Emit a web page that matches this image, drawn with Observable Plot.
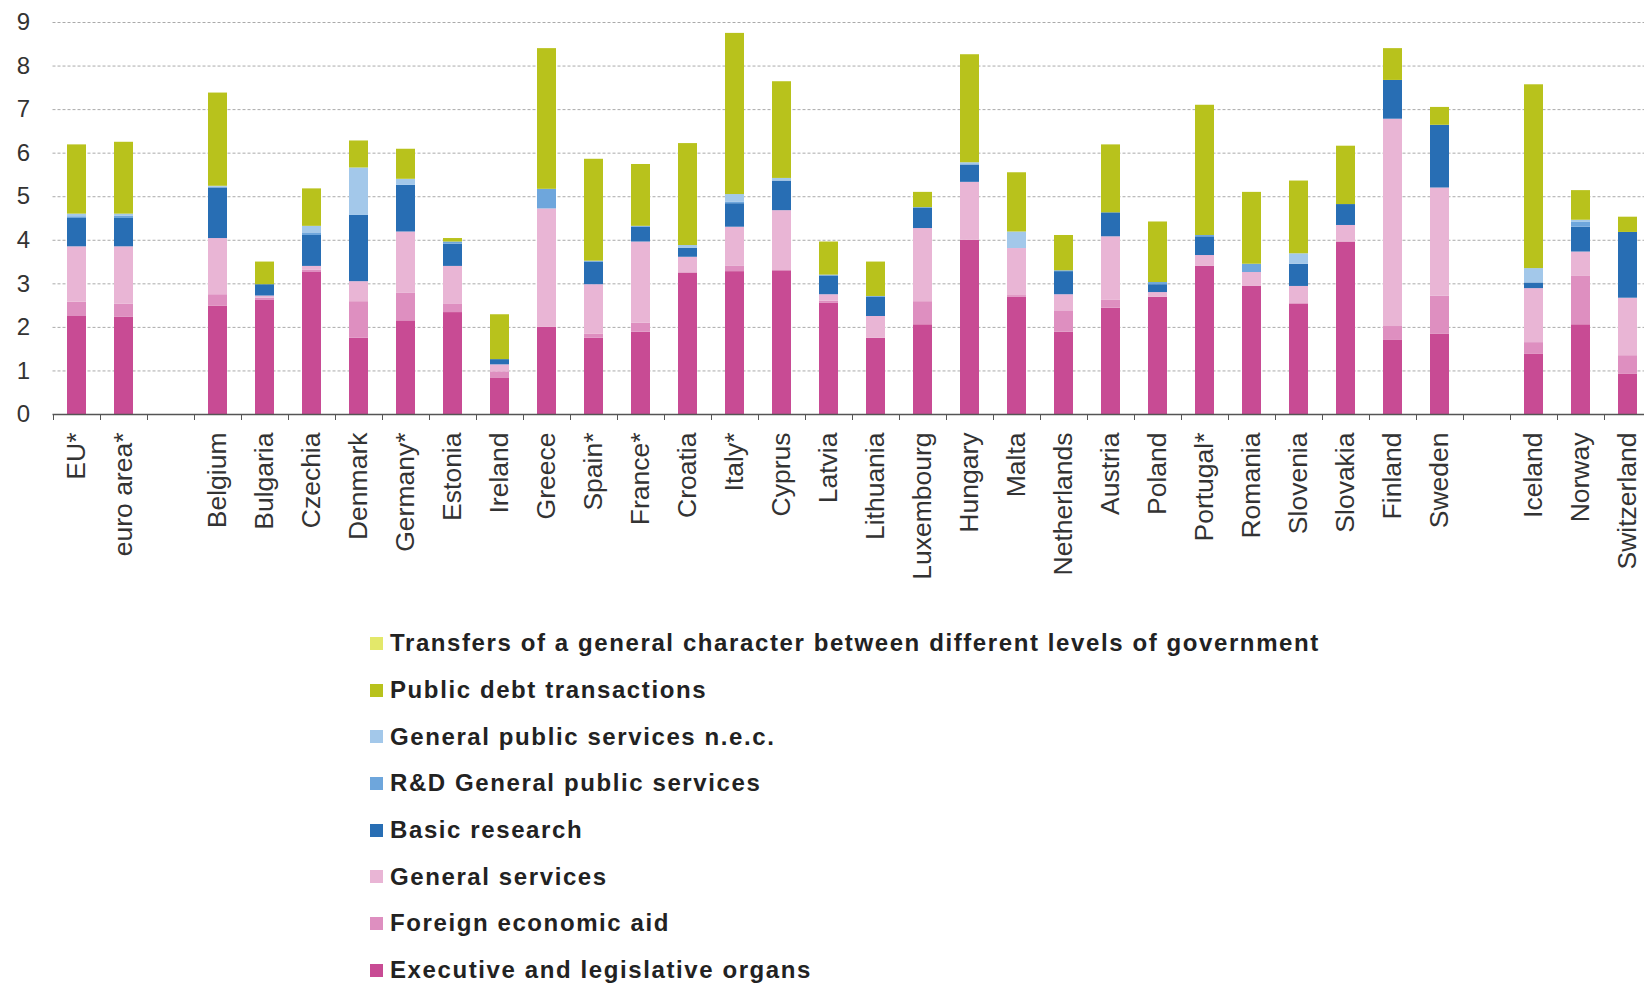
<!DOCTYPE html>
<html><head><meta charset="utf-8">
<script src="https://cdn.jsdelivr.net/npm/d3@7"></script>
<script src="https://cdn.jsdelivr.net/npm/@observablehq/plot@0.6"></script>
<style>
body{margin:0;background:#fff;font-family:"Liberation Sans",Arial,sans-serif;overflow:hidden}
#legend{margin-left:370px;margin-top:20px}
.item{display:flex;align-items:center;height:46.7px;font-weight:bold;font-size:24px;letter-spacing:1.6px;color:#222}
.sw{width:13px;height:13px;margin-right:7px;flex:none}
</style></head><body><div id="chart"></div><div id="legend"></div>
<script>
// x categories ("" and " " are empty spacer slots)
const categories = ["EU*","euro area*","","Belgium","Bulgaria","Czechia","Denmark","Germany*","Estonia","Ireland","Greece","Spain*","France*","Croatia","Italy*","Cyprus","Latvia","Lithuania","Luxembourg","Hungary","Malta","Netherlands","Austria","Poland","Portugal*","Romania","Slovenia","Slovakia","Finland","Sweden"," ","Iceland","Norway","Switzerland"];
const countries = categories.filter(c => c.trim() !== "");
const yTicks = [0,1,2,3,4,5,6,7,8,9];

// series, bottom to top
const seriesNames = ["Executive and legislative organs","Foreign economic aid","General services","Basic research","R&D General public services","General public services n.e.c.","Public debt transactions","Transfers of a general character between different levels of government"];
const seriesColors = ["#c84b94","#de8fc0","#e9b5d5","#286eb4","#6ea6dc","#a3c8ea","#b8c21c","#e3e86a"];

const executive = [2.25,2.23, 2.49,2.63,3.26,1.75,2.15,2.34,0.84,2.00,1.75,1.89,3.25,3.28,3.30,2.56,1.75,2.06,4.00,2.69,1.89,2.44,2.69,3.40,2.94,2.54,3.96,1.70,1.84, 1.38,2.06,0.93];
const foreignAid = [0.33,0.30, 0.26,0.04,0.05,0.84,0.64,0.20,0.14,0,0.09,0.21,0,0.12,0,0.04,0,0.53,0,0.04,0.49,0.19,0,0,0,0,0,0.32,0.88, 0.27,1.11,0.42];
const generalServices = [1.27,1.32, 1.29,0.05,0.09,0.46,1.40,0.86,0.16,2.72,1.14,1.86,0.36,0.90,1.38,0.15,0.50,1.68,1.33,1.08,0.37,1.45,0.11,0.25,0.32,0.40,0.38,4.76,2.48, 1.24,0.56,1.32];
const basicResearch = [0.65,0.65, 1.16,0.26,0.71,1.52,1.07,0.51,0.12,0,0.52,0.34,0.21,0.54,0.68,0.43,0.44,0.46,0.40,0,0.53,0.55,0.18,0.43,0,0.51,0.48,0.89,1.44, 0.13,0.57,1.51];
const rdGeneral = [0.04,0.05, 0.02,0,0.06,0,0,0.05,0,0.45,0.02,0.02,0,0.03,0,0.02,0.02,0.02,0,0,0.02,0,0.05,0.03,0.19,0,0,0,0, 0,0.11,0];
const gpsNec = [0.06,0.05, 0.02,0,0.15,1.09,0.14,0,0,0,0,0,0.06,0.18,0.06,0,0,0,0.05,0.38,0,0,0,0,0,0.24,0,0,0, 0.33,0.05,0];
const publicDebt = [1.59,1.65, 2.14,0.52,0.86,0.62,0.69,0.08,1.03,3.23,2.34,1.42,2.34,3.70,2.22,0.76,0.79,0.35,2.48,1.36,0.81,1.56,1.39,2.99,1.65,1.67,1.34,0.73,0.41, 4.22,0.68,0.35];
const transfers = [0,0, 0,0,0,0,0,0,0,0,0,0,0,0,0,0,0,0,0,0,0,0,0,0,0,0,0,0,0, 0,0,0];

const seriesValues = [executive, foreignAid, generalServices, basicResearch, rdGeneral, gpsNec, publicDebt, transfers];

const tidy = [];
countries.forEach((c, i) => seriesNames.forEach((s, j) => tidy.push({country: c, series: s, value: seriesValues[j][i]})));

const font = '"Liberation Sans", Arial, sans-serif';
const chart = Plot.plot({
  width: 1644, height: 600,
  marginTop: 22, marginBottom: 186, marginLeft: 52.5, marginRight: -6.5,
  style: {fontFamily: font, fontSize: "24px", color: "#333", background: "#fff"},
  x: {domain: categories, padding: 0, label: null},
  y: {domain: [0, 9], label: null},
  color: {domain: seriesNames, range: seriesColors},
  marks: [
    Plot.gridY(yTicks.slice(1), {stroke: "#aaa", strokeOpacity: 1, strokeDasharray: "3,2"}),
    Plot.barY(tidy, {x: "country", y: "value", fill: "series", insetLeft: 14, insetRight: 14}),
    Plot.ruleY([0], {stroke: "#555", strokeWidth: 1.5}),
    Plot.axisY(yTicks, {tickSize: 0, tickPadding: 23, fontSize: 24, label: null}),
    Plot.axisX({tickSize: 6, dx: -23.5, tickFormat: () => "", stroke: "#555", label: null}),
    Plot.axisX({tickSize: 0, tickRotate: -90, tickPadding: 18, fontSize: 26.5, label: null})
  ]
});
document.getElementById("chart").appendChild(chart);

const legend = document.getElementById("legend");
seriesNames.slice().reverse().forEach((name) => {
  const idx = seriesNames.indexOf(name);
  const row = document.createElement("div");
  row.className = "item";
  const sw = document.createElement("span");
  sw.className = "sw";
  sw.style.background = seriesColors[idx];
  const t = document.createElement("span");
  t.textContent = name;
  row.appendChild(sw); row.appendChild(t);
  legend.appendChild(row);
});
</script></body></html>
